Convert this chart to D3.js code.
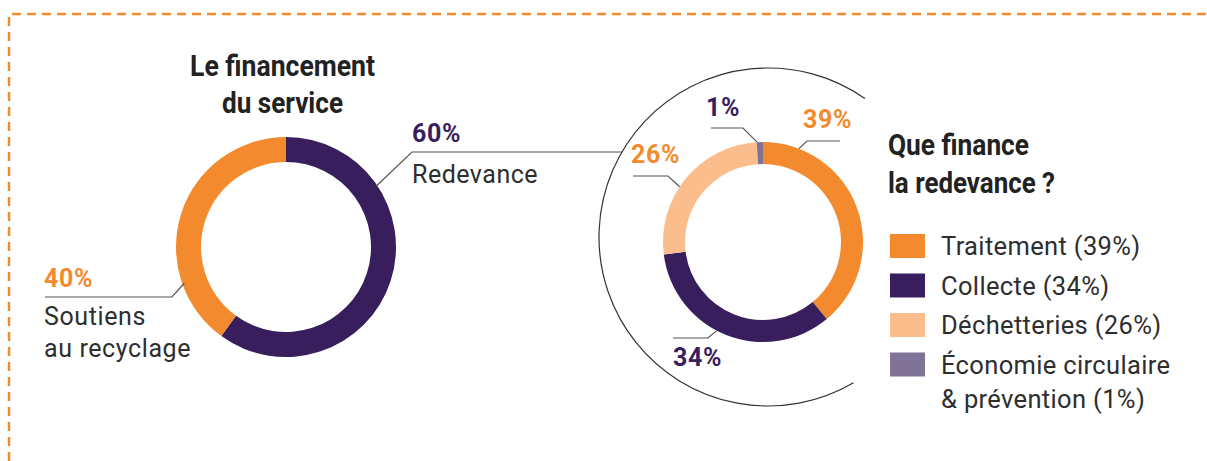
<!DOCTYPE html>
<html>
<head>
<meta charset="utf-8">
<script src="https://cdn.jsdelivr.net/npm/d3@7"></script>
<style>
  body { margin: 0; background: #fff; }
  svg { display: block; }
  text { font-family: Roboto, 'Noto Sans', sans-serif; }
</style>
</head>
<body>
<div id="chart"></div>
<script>
// ---- data ----
const fundingLabels = ['Redevance', 'Soutiens au recyclage'];
const fundingValues = [60, 40];

const usageLabels = ['Traitement', 'Collecte', 'Déchetteries', 'Économie circulaire & prévention'];
const usageValues = [39, 34, 26, 1];

// ---- styles ----
const orange = '#f38a2d', purple = '#381e5c', peach = '#fbbd8b', mauve = '#7f7398';
const ink = '#2e2e2e', leader = '#555';
const fundingColors = [purple, orange];
const usageColors = [orange, purple, peach, mauve];

let width = 1207,
    height = 461;

let svg = d3.select('#chart').append('svg')
    .attr('width', width)
    .attr('height', height);

// dashed frame (top + left only)
svg.append('path')
    .attr('d', `M9,${height} L9,14 L${width},14`)
    .attr('fill', 'none')
    .attr('stroke', orange)
    .attr('stroke-width', 2.5)
    .attr('stroke-dasharray', '9,6');

let pie = d3.pie().sort(null).value(d => d);
let rad = Math.PI / 180;

// point on a circle, angle in degrees clockwise from 12 o'clock
function polar(c, r, deg) {
    return [c.x + r * Math.sin(deg * rad), c.y - r * Math.cos(deg * rad)];
}

function drawDonut(c, rOuter, rInner, values, colors) {
    let arc = d3.arc().innerRadius(rInner).outerRadius(rOuter);
    svg.append('g')
        .attr('transform', `translate(${c.x}, ${c.y})`)
        .selectAll('path')
        .data(pie(values))
        .join('path')
        .attr('d', arc)
        .attr('fill', (d, i) => colors[i]);
}

// leader: from the ring at angle, to an elbow, then horizontal
function drawLeader(c, r, l) {
    let p = polar(c, r, l.angle);
    svg.append('polyline')
        .attr('points', [p, [l.ex, l.ey], [l.hx, l.ey]].map(q => q.join(',')).join(' '))
        .attr('fill', 'none')
        .attr('stroke', leader)
        .attr('stroke-width', 1.2);
}

function pctText(x, y, v, color) {
    svg.append('text')
        .attr('x', x).attr('y', y)
        .attr('fill', color)
        .style('font-size', '25px')
        .style('font-weight', 700)
        .style('letter-spacing', '0.6px')
        .text(v + '%');
}

function titleText(lines, x, y0, dy, lengths, anchor) {
    svg.append('text')
        .attr('text-anchor', anchor)
        .attr('fill', '#222')
        .style('font-size', '30px')
        .style('font-weight', 700)
        .selectAll('tspan')
        .data(lines)
        .join('tspan')
        .attr('x', x)
        .attr('y', (d, i) => y0 + i * dy)
        .attr('textLength', (d, i) => lengths[i])
        .attr('lengthAdjust', 'spacingAndGlyphs')
        .text(d => d);
}

// ---- left donut: financement du service ----
let cL = {x: 286, y: 247};
drawDonut(cL, 110, 85, fundingValues, fundingColors);

titleText(['Le financement', 'du service'], 282.5, 76, 37, [185, 121], 'middle');

// 60% Redevance
drawLeader(cL, 109, {angle: 56, ex: 412, ey: 152, hx: 622});
pctText(412, 142, fundingValues[0], purple);
svg.append('text')
    .attr('x', 412).attr('y', 183)
    .attr('fill', ink)
    .style('font-size', '25px')
    .style('letter-spacing', '0.5px')
    .text(fundingLabels[0]);

// 40% Soutiens au recyclage
drawLeader(cL, 108, {angle: 250.4, ex: 172, ey: 297, hx: 45});
pctText(44, 287, fundingValues[1], orange);
svg.append('text')
    .attr('fill', ink)
    .style('font-size', '25px')
    .style('letter-spacing', '0.6px')
    .selectAll('tspan')
    .data(['Soutiens', 'au recyclage'])
    .join('tspan')
    .attr('x', 44)
    .attr('y', (d, i) => 325 + i * 32)
    .text(d => d);

// ---- big enclosing arc ----
let bigC = {x: 768, y: 237};
let bigPath = d3.path();
bigPath.arc(bigC.x, bigC.y, 169, (149.6 - 90) * rad, (395 - 90) * rad, false);
svg.append('path')
    .attr('d', bigPath.toString())
    .attr('fill', 'none')
    .attr('stroke', '#333')
    .attr('stroke-width', 1.2);

// ---- right donut: que finance la redevance ----
let cR = {x: 763, y: 242};
drawDonut(cR, 100, 78, usageValues, usageColors);

let usageLayout = [
    {angle: 21,    ex: 807, ey: 141, hx: 840, tx: 803, ty: 128, color: orange},
    {angle: 207.6, ex: 708, ey: 338, hx: 673, tx: 673, ty: 366, color: purple},
    {angle: 303.5, ex: 668, ey: 176, hx: 633, tx: 631, ty: 163, color: orange},
    {angle: 356.6, ex: 743, ey: 128, hx: 711, tx: 706, ty: 116, color: purple}
];
usageLayout.forEach((l, i) => {
    drawLeader(cR, 100, l);
    pctText(l.tx, l.ty, usageValues[i], l.color);
});

// ---- legend ----
titleText(['Que finance', 'la redevance ?'], 888, 155, 38, [141, 167], 'start');

let legendItems = usageLabels.map((lab, i) => {
    let full = `${lab} (${usageValues[i]}%)`;
    return {color: usageColors[i], lines: full.includes(' & ') ? full.split(/ (?=& )/) : [full]};
});

let lg = svg.append('g')
    .selectAll('g')
    .data(legendItems)
    .join('g')
    .attr('transform', (d, i) => `translate(890, ${234 + i * 39.5})`);

lg.append('rect')
    .attr('width', 35)
    .attr('height', 24)
    .attr('fill', d => d.color);

lg.append('text')
    .attr('fill', ink)
    .style('font-size', '25.5px')
    .style('letter-spacing', '0.35px')
    .selectAll('tspan')
    .data(d => d.lines)
    .join('tspan')
    .attr('x', 51)
    .attr('y', (d, i) => 21 + i * 34)
    .text(d => d);
</script>
</body>
</html>
